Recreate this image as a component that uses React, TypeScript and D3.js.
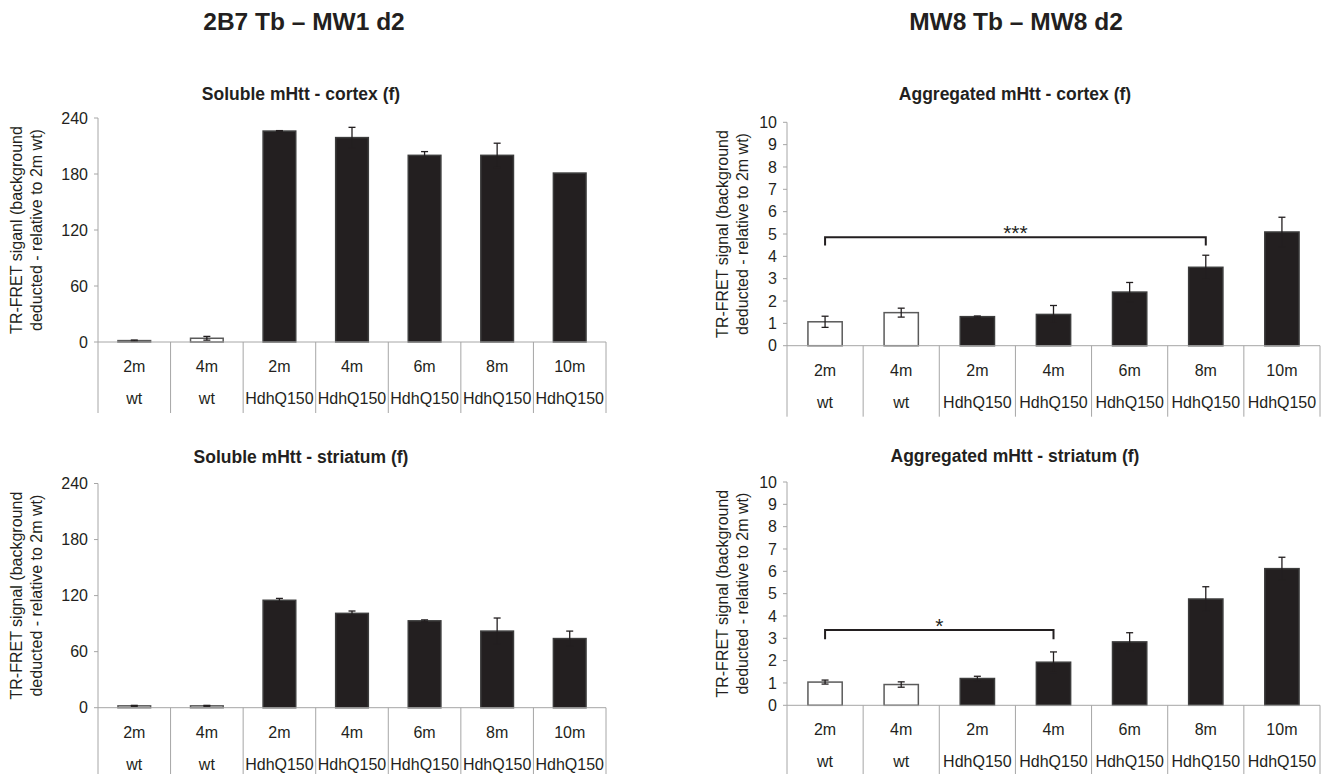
import React from 'react';
import * as d3 from 'd3';

// categories (two-level axis)
const ages = ['2m', '4m', '2m', '4m', '6m', '8m', '10m'];
const genotypes = ['wt', 'wt', 'HdhQ150', 'HdhQ150', 'HdhQ150', 'HdhQ150', 'HdhQ150'];

// soluble mHtt (2B7 Tb - MW1 d2)
const solubleCortex = [1.5, 4, 226, 219, 200, 200, 181];
const solubleCortexErr = [0.6, 2, 0.5, 11, 4, 13, 0];
const solubleStriatum = [2, 2, 115, 101, 93, 82, 74];
const solubleStriatumErr = [0.5, 0.5, 2, 2.5, 1, 14, 8];
const solubleTicks = [0, 60, 120, 180, 240];

// aggregated mHtt (MW8 Tb - MW8 d2)
const aggCortex = [1.07, 1.48, 1.3, 1.4, 2.4, 3.51, 5.09];
const aggCortexErr = [0.25, 0.2, 0.03, 0.4, 0.43, 0.54, 0.66];
const aggStriatum = [1.04, 0.93, 1.2, 1.93, 2.84, 4.76, 6.12];
const aggStriatumErr = [0.09, 0.12, 0.1, 0.46, 0.41, 0.55, 0.51];
const aggTicks = [0, 1, 2, 3, 4, 5, 6, 7, 8, 9, 10];

// significance brackets
const aggCortexSig = { from: 0, to: 5, level: 4.85, end: 4.48, label: '***' };
const aggStriatumSig = { from: 0, to: 3, level: 3.37, end: 2.96, label: '*' };

const headers = ['2B7 Tb \u2013 MW1 d2', 'MW8 Tb \u2013 MW8 d2'];

const FONT = '"Liberation Sans", Arial, sans-serif';
const INK = '#231f20';
const AXIS = '#a6a6a6';

type Sig = { from: number; to: number; level: number; end: number; label: string };

type PanelProps = {
  left: number;
  right: number;
  top: number;
  bottom: number;
  max: number;
  ticks: number[];
  values: number[];
  errors: number[];
  title: string;
  titleX: number;
  titleY: number;
  yLabel: string[];
  labelX: number[];
  sig?: Sig;
};

const Panel = ({ left, right, top, bottom, max, ticks, values, errors, title, titleX, titleY, yLabel, labelX, sig }: PanelProps) => {
  const x = d3.scaleBand<number>().domain(d3.range(values.length)).range([left, right]).padding(0);
  const y = d3.scaleLinear().domain([0, max]).range([bottom, top]);
  const bw = x.bandwidth() * 0.45;
  const cx = (i: number) => (x(i) as number) + x.bandwidth() / 2;
  const midY = (top + bottom) / 2;

  return (
    <g>
      <text x={titleX} y={titleY} textAnchor="middle" fontWeight="bold" fontSize={17.5} fill={INK}>{title}</text>

      {/* y label */}
      {yLabel.map((l, i) => (
        <text key={i} transform={`translate(${left + labelX[i]}, ${midY}) rotate(-90)`} textAnchor="middle" fontSize={16} fill={INK}>{l}</text>
      ))}

      {/* y axis */}
      <line x1={left} x2={left} y1={top} y2={bottom} stroke={AXIS} strokeWidth={1} />
      {ticks.map(t => (
        <g key={t}>
          <line x1={left - 4} x2={left} y1={y(t)} y2={y(t)} stroke={AXIS} />
          <text x={left - 10} y={y(t)} dy="0.36em" textAnchor="end" fontSize={16} fill={INK}>{t}</text>
        </g>
      ))}

      {/* bars */}
      {values.map((v, i) => {
        const wt = genotypes[i] === 'wt';
        return (
          <rect
            key={i}
            x={cx(i) - bw / 2}
            y={y(v)}
            width={bw}
            height={bottom - y(v)}
            fill={wt ? '#ffffff' : INK}
            stroke={wt ? '#5a5a5a' : '#3c3c3c'}
            strokeWidth={1.5}
          />
        );
      })}

      {/* error bars */}
      {values.map((v, i) => {
        const e = errors[i];
        if (!e) return null;
        const c = cx(i);
        return (
          <g key={i} stroke={INK} strokeWidth={1.3}>
            <line x1={c} x2={c} y1={y(v - e)} y2={y(v + e)} />
            <line x1={c - 3.5} x2={c + 3.5} y1={y(v + e)} y2={y(v + e)} />
            <line x1={c - 3.5} x2={c + 3.5} y1={y(v - e)} y2={y(v - e)} />
          </g>
        );
      })}

      {/* category axis */}
      <line x1={left} x2={right} y1={bottom} y2={bottom} stroke={AXIS} />
      {d3.range(values.length + 1).map(i => {
        const xx = i < values.length ? (x(i) as number) : right;
        return <line key={i} x1={xx} x2={xx} y1={bottom} y2={bottom + 71} stroke={AXIS} />;
      })}
      {ages.map((a, i) => (
        <text key={`a${i}`} x={cx(i)} y={bottom + 30} textAnchor="middle" fontSize={16} fill={INK}>{a}</text>
      ))}
      {genotypes.map((g, i) => (
        <text key={`g${i}`} x={cx(i)} y={bottom + 62} textAnchor="middle" fontSize={16} fill={INK}>{g}</text>
      ))}

      {/* significance */}
      {sig && (
        <g>
          <path
            d={`M${cx(sig.from)},${y(sig.end)}V${y(sig.level)}H${cx(sig.to)}V${y(sig.end)}`}
            fill="none"
            stroke={INK}
            strokeWidth={2}
          />
          <text x={(cx(sig.from) + cx(sig.to)) / 2} y={y(sig.level) + 3} textAnchor="middle" fontSize={21} fill={INK}>{sig.label}</text>
        </g>
      )}
    </g>
  );
};

export default function App() {
  return (
    <div style={{ position: 'absolute', left: 0, top: 0 }}>
      <svg width={1321} height={774} style={{ display: 'block', fontFamily: FONT, background: '#fff' }}>
        <text x={304} y={30} textAnchor="middle" fontWeight="bold" fontSize={24.5} fill={INK}>{headers[0]}</text>
        <text x={1016} y={30} textAnchor="middle" fontWeight="bold" fontSize={24.5} fill={INK}>{headers[1]}</text>

        <Panel
          left={98} right={606} top={118} bottom={342} max={240}
          ticks={solubleTicks} values={solubleCortex} errors={solubleCortexErr}
          title="Soluble mHtt - cortex (f)" titleX={301} titleY={100}
          yLabel={['TR-FRET siganl (background', 'deducted - relative to 2m wt)']} labelX={[-76, -56]}
        />
        <Panel
          left={98} right={606} top={483.5} bottom={707.7} max={240}
          ticks={solubleTicks} values={solubleStriatum} errors={solubleStriatumErr}
          title="Soluble mHtt - striatum (f)" titleX={301} titleY={463}
          yLabel={['TR-FRET signal (background', 'deducted - relative to 2m wt)']} labelX={[-76, -56]}
        />
        <Panel
          left={787} right={1320} top={122.3} bottom={345.7} max={10}
          ticks={aggTicks} values={aggCortex} errors={aggCortexErr}
          title="Aggregated mHtt - cortex (f)" titleX={1015} titleY={100}
          yLabel={['TR-FRET signal (background', 'deducted - relative to 2m wt)']} labelX={[-59, -39]}
          sig={aggCortexSig}
        />
        <Panel
          left={787} right={1320} top={482} bottom={705.3} max={10}
          ticks={aggTicks} values={aggStriatum} errors={aggStriatumErr}
          title="Aggregated mHtt - striatum (f)" titleX={1015} titleY={462}
          yLabel={['TR-FRET signal (background', 'deducted - relative to 2m wt)']} labelX={[-59, -39]}
          sig={aggStriatumSig}
        />
      </svg>
    </div>
  );
}
